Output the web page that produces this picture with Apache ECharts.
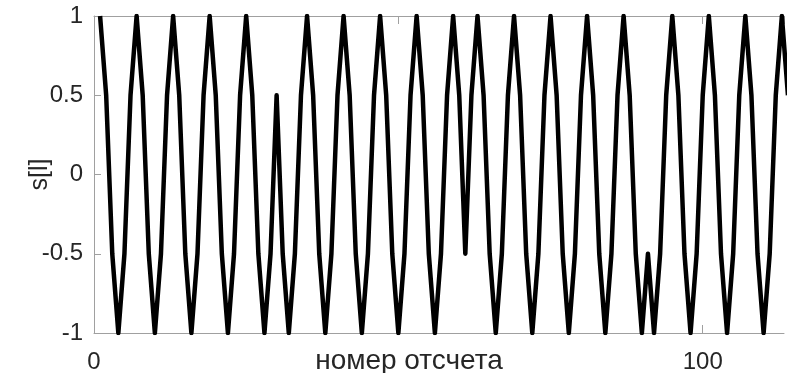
<!DOCTYPE html>
<html>
<head>
<meta charset="utf-8">
<script src="https://cdn.jsdelivr.net/npm/echarts@6/dist/echarts.min.js"></script>
<style>
  html, body { margin: 0; padding: 0; background: #fff; }
  #chart { width: 790px; height: 373px; }
</style>
</head>
<body>
<div id="chart"></div>
<script>
// Sampled signal s[l], one value per sample number l = 1, 2, 3, ...
const sampleValues = [
  // l = 1..30
  1, 0.5, -0.5, -1, -0.5, 0.5,
  1, 0.5, -0.5, -1, -0.5, 0.5,
  1, 0.5, -0.5, -1, -0.5, 0.5,
  1, 0.5, -0.5, -1, -0.5, 0.5,
  1, 0.5, -0.5, -1, -0.5, 0.5,
  // l = 31..61
  -0.5, -1, -0.5, 0.5, 1, 0.5,
  -0.5, -1, -0.5, 0.5, 1, 0.5,
  -0.5, -1, -0.5, 0.5, 1, 0.5,
  -0.5, -1, -0.5, 0.5, 1, 0.5,
  -0.5, -1, -0.5, 0.5, 1, 0.5,
  -0.5,
  // l = 62..90
  0.5, 1, 0.5, -0.5, -1, -0.5,
  0.5, 1, 0.5, -0.5, -1, -0.5,
  0.5, 1, 0.5, -0.5, -1, -0.5,
  0.5, 1, 0.5, -0.5, -1, -0.5,
  0.5, 1, 0.5, -0.5, -1,
  // l = 91..114
  -0.5, -1, -0.5, 0.5, 1, 0.5,
  -0.5, -1, -0.5, 0.5, 1, 0.5,
  -0.5, -1, -0.5, 0.5, 1, 0.5,
  -0.5, -1, -0.5, 0.5, 1, 0.5
];
const firstSample = 1;

// Axis ranges and labelled ticks
const xRange = [0, 113.35];
const xTickStep = 50;
const xLabelledTicks = [0, 100];
const yRange = [-1, 1];
const yTickStep = 0.5;

const xTitle = 'номер отсчета';
const yTitle = 's[l]';

const points = sampleValues.map((v, i) => [firstSample + i, v]);

const frameColor = '#a0a0a0';
const textColor = '#262626';
const fontFamily = '"Liberation Sans", Arial, Helvetica, sans-serif';

const chart = echarts.init(document.getElementById('chart'), null, { renderer: 'canvas' });

chart.setOption({
  animation: false,
  backgroundColor: '#ffffff',
  grid: { left: 94, right: 6, top: 16, bottom: 40, containLabel: false, outerBoundsMode: 'none' },
  xAxis: [
    {
      type: 'value',
      position: 'bottom',
      min: xRange[0],
      max: xRange[1],
      interval: xTickStep,
      axisLine: { show: true, onZero: false, lineStyle: { color: frameColor, width: 1 } },
      axisTick: { show: true, inside: true, length: 8, lineStyle: { color: frameColor } },
      splitLine: { show: false },
      axisLabel: {
        show: true,
        margin: 17,
        color: textColor,
        fontSize: 24,
        fontFamily: fontFamily,
        showMaxLabel: false,
        formatter: v => (xLabelledTicks.indexOf(v) >= 0 ? String(v) : '')
      },
      name: xTitle,
      nameLocation: 'middle',
      nameGap: 14,
      nameMoveOverlap: false,
      nameTextStyle: {
        color: textColor,
        fontSize: 28,
        fontFamily: fontFamily,
        verticalAlign: 'top',
        padding: [0, 60, 0, 0]
      }
    },
    {
      type: 'value',
      position: 'top',
      min: xRange[0],
      max: xRange[1],
      interval: xTickStep,
      axisLine: { show: true, onZero: false, lineStyle: { color: frameColor, width: 1 } },
      axisTick: { show: true, inside: true, length: 8, lineStyle: { color: frameColor } },
      splitLine: { show: false },
      axisLabel: { show: false }
    }
  ],
  yAxis: {
    type: 'value',
    min: yRange[0],
    max: yRange[1],
    interval: yTickStep,
    axisLine: { show: true, onZero: false, lineStyle: { color: frameColor, width: 1 } },
    axisTick: { show: true, inside: true, length: 7, lineStyle: { color: frameColor } },
    splitLine: { show: false },
    axisLabel: {
      margin: 11,
      color: textColor,
      fontSize: 24,
      fontFamily: fontFamily
    },
    name: yTitle,
    nameLocation: 'middle',
    nameRotate: 90,
    nameGap: 41,
    nameMoveOverlap: false,
    nameTextStyle: {
      color: textColor,
      fontSize: 25,
      fontFamily: fontFamily
    }
  },
  series: [
    {
      type: 'line',
      xAxisIndex: 0,
      data: points,
      showSymbol: false,
      symbol: 'none',
      clip: true,
      lineStyle: { color: '#000000', width: 4.5, join: 'round', cap: 'butt' },
      emphasis: { disabled: true }
    }
  ]
});
</script>
</body>
</html>
